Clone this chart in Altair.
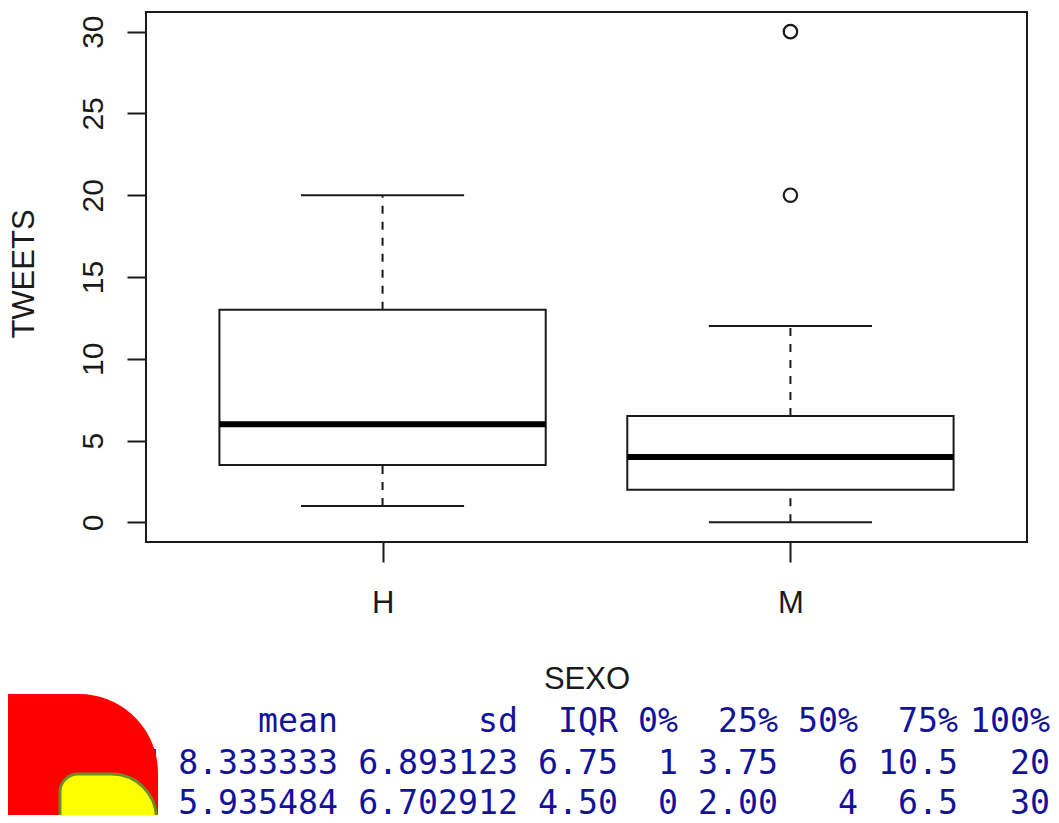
import json
import altair as alt
import pandas as pd

# ---- data ----
categories = ["H", "M"]
whisker_low = [1, 0]
hinge_low = [3.5, 2]
medians = [6, 4]
hinge_high = [13, 6.5]
whisker_high = [20, 12]
outlier_group = ["M", "M"]
outlier_values = [20, 30]
y_ticks = [0, 5, 10, 15, 20, 25, 30]

stat_names = ["mean", "sd", "IQR", "0%", "25%", "50%", "75%", "100%"]
stats_H = ["8.333333", "6.893123", "6.75", "1", "3.75", "6", "10.5", "20"]
stats_M = ["5.935484", "6.702912", "4.50", "0", "2.00", "4", "6.5", "30"]

# ---- tables for the library ----
pos = [i + 1 for i in range(len(categories))]
boxes = pd.DataFrame({
    "cat": categories, "pos": pos,
    "wlo": whisker_low, "q1": hinge_low, "med": medians,
    "q3": hinge_high, "whi": whisker_high,
})
boxes["left"] = boxes["pos"] - 0.4
boxes["right"] = boxes["pos"] + 0.4
boxes["capl"] = boxes["pos"] - 0.2
boxes["capr"] = boxes["pos"] + 0.2

whisk = pd.concat([
    boxes[["pos", "q3", "whi"]].rename(columns={"q3": "a", "whi": "b"}),
    boxes[["pos", "wlo", "q1"]].rename(columns={"wlo": "a", "q1": "b"}),
])
caps = pd.concat([
    boxes[["capl", "capr", "whi"]].rename(columns={"whi": "v"}),
    boxes[["capl", "capr", "wlo"]].rename(columns={"wlo": "v"}),
])
outl = pd.DataFrame({"cat": outlier_group, "v": outlier_values})
outl["pos"] = outl["cat"].map({c: p for c, p in zip(categories, pos)})

Y_MIN, Y_MAX = -1.2, 31.2
axis_line = pd.DataFrame({"x1": [min(pos)], "x2": [max(pos)], "y": [Y_MIN]})

FONT = "Liberation Sans"
INK = "#1a1a1a"

xscale = alt.Scale(domain=[0.42, 2.58], nice=False, zero=False)
yscale = alt.Scale(domain=[Y_MIN, Y_MAX], nice=False, zero=False)

xaxis = alt.Axis(
    values=pos, labelExpr=f"{json.dumps(categories)}[datum.value - 1]",
    tickSize=20, tickWidth=2, tickColor=INK, domain=False, grid=False,
    labelFont=FONT, labelFontSize=31, labelColor=INK, labelBaseline="alphabetic",
    labelPadding=50, labelFlush=False, labelOverlap=False,
    title="SEXO", titleFont=FONT, titleFontSize=31, titleFontWeight="normal",
    titleColor=INK, titleX=440.5, titleY=146, titleAlign="center",
    titleBaseline="alphabetic",
)
yaxis = alt.Axis(
    values=y_ticks, tickSize=19, tickWidth=2, tickColor=INK, domain=False, grid=False,
    labelFont=FONT, labelFontSize=30, labelColor=INK, labelAngle=270,
    labelAlign="center", labelBaseline="alphabetic", labelPadding=25,
    labelFlush=False, labelOverlap=False,
    title="TWEETS", titleFont=FONT, titleFontSize=31, titleFontWeight="normal",
    titleColor=INK, titleAngle=270, titleX=-113, titleY=261.5,
    titleAlign="center", titleBaseline="alphabetic",
)


def X(field):
    return alt.X(field, type="quantitative", scale=xscale, axis=xaxis)


def Y(field):
    return alt.Y(field, type="quantitative", scale=yscale, axis=yaxis)


whisker_layer = alt.Chart(whisk).mark_rule(
    color=INK, strokeWidth=2, strokeDash=[8, 8]
).encode(x=X("pos"), y=Y("a"), y2="b")

cap_layer = alt.Chart(caps).mark_rule(color=INK, strokeWidth=2).encode(
    x=X("capl"), x2="capr", y=Y("v")
)

box_layer = alt.Chart(boxes).mark_rect(
    fill="white", stroke=INK, strokeWidth=2
).encode(x=X("left"), x2="right", y=Y("q1"), y2="q3")

median_layer = alt.Chart(boxes).mark_rule(color="black", strokeWidth=6).encode(
    x=X("left"), x2="right", y=Y("med")
)

outlier_layer = alt.Chart(outl).mark_point(
    shape="circle", filled=False, size=180, strokeWidth=2.2, color=INK, opacity=1
).encode(x=X("pos"), y=Y("v"))

axisline_layer = alt.Chart(axis_line).mark_rule(color=INK, strokeWidth=2).encode(
    x=X("x1"), x2="x2", y=Y("y")
)

# ---- console table below the plot (monospace columns, right aligned) ----
CELL = 20          # px per character cell
START = 138 - 146  # left edge of the console line, plot coordinates
RIGHT_LIMIT = 1050 - 146
cols = list(zip(stat_names, stats_H, stats_M))
widths = [max(len(s) for s in c) for c in cols]
row_names = ["", "H", "M"]
rows = [stat_names, stats_H, stats_M]
line_baselines = [720, 761.5, 802]  # px inside plot coordinates

col_right = []
edge = START + CELL * 1  # row-name column is 1 char wide
for w in widths:
    edge += CELL * (w + 1)
    col_right.append(min(edge, RIGHT_LIMIT))
name_right = START + CELL

one = pd.DataFrame({"k": [0]})
text_style = dict(align="right", baseline="alphabetic", font="DejaVu Sans Mono",
                  fontSize=33.2, color="#12129a")
text_layers = []
for rn, r, yb in zip(row_names, rows, line_baselines):
    if rn:
        text_layers.append(alt.Chart(one).mark_text(**text_style).encode(
            x=alt.value(name_right), y=alt.value(yb), text=alt.value(rn)))
    for v, xr in zip(r, col_right):
        text_layers.append(alt.Chart(one).mark_text(**text_style).encode(
            x=alt.value(xr), y=alt.value(yb), text=alt.value(v)))

red_shape = alt.Chart(one).mark_rect(
    color="#ff0000", cornerRadiusTopRight=85, cornerRadiusTopLeft=10
).encode(x=alt.value(-170), x2=alt.value(12), y=alt.value(682), y2=alt.value(840))

yellow_shape = alt.Chart(one).mark_rect(
    fill="#ffff00", stroke="#6b8e23", strokeWidth=3,
    cornerRadiusTopLeft=18, cornerRadiusTopRight=45,
).encode(x=alt.value(-86), x2=alt.value(10.5), y=alt.value(762), y2=alt.value(860))

chart = alt.layer(
    whisker_layer, cap_layer, box_layer, median_layer, outlier_layer,
    axisline_layer, *text_layers, red_shape, yellow_shape,
).properties(
    width=881, height=530,
    autosize=alt.AutoSizeParams(type="none"),
    padding={"left": 138, "top": 4, "right": 24, "bottom": 273},
    background="white",
).configure_view(stroke=INK, strokeWidth=2)

chart.save("out.html", embed_options={"renderer": "svg", "actions": False})
